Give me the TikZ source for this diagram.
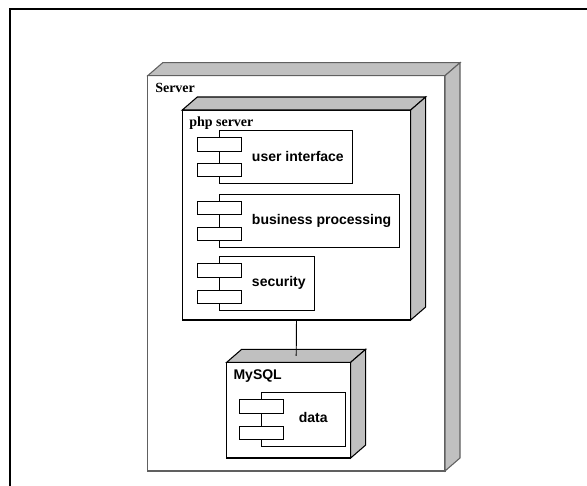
\documentclass[tikz,border=0pt]{standalone}
\usepackage{fontspec}
\setmainfont{Liberation Serif}
\newfontfamily\sansbf{Liberation Sans}
\usetikzlibrary{fit,calc}
\definecolor{facegray}{RGB}{192,192,192}
\definecolor{srvline}{RGB}{96,96,96}
\begin{document}
\begin{tikzpicture}[x=0.75pt,y=-0.75pt,
  box/.style={draw, fill=white, inner sep=0pt, outer sep=0pt, line width=0.8pt},
  face/.style={fill=facegray, draw, line width=0.8pt, line join=miter},
  comp/.style={draw, fill=white, inner sep=0pt, outer sep=0pt, line width=0.7pt},
  port/.style={draw, fill=white, line width=0.7pt},
  lab/.style={font=\fontsize{10.5}{12}\selectfont\bfseries, anchor=base west, inner sep=0pt},
  clab/.style={font=\fontsize{10.5}{12}\selectfont\sansbf\bfseries, anchor=base west, inner sep=0pt},
  conn/.style={draw, line width=0.7pt}]
\useasboundingbox (0,0) rectangle (587,486);
\draw[line width=1.2pt] (10,486) -- (10,9) -- (587,9);

% Server node
\node[box, draw=srvline, fit={(147.7,75.7) (445,471)}] (server) {};
\path[face, draw=srvline] (server.north west) -- ++(15,-13) -- ([shift={(15,-13)}]server.north east) -- (server.north east) -- cycle;
\path[face, draw=srvline] (server.north east) -- ([shift={(15,-13)}]server.north east) -- ([shift={(15,-13)}]server.south east) -- (server.south east) -- cycle;
\node[lab] (serverlab) at (155,92.7) {Server};

% php server node
\node[box, fit={(182.3,110) (410.7,320)}] (php) {};
\path[face] (php.north west) -- ++(15,-13) -- ([shift={(15,-13)}]php.north east) -- (php.north east) -- cycle;
\path[face] (php.north east) -- ([shift={(15,-13)}]php.north east) -- ([shift={(15,-13)}]php.south east) -- (php.south east) -- cycle;
\node[lab] (phplab) at (189,126) {php server};

% components
\node[comp, fit={(219.3,130.7) (352.3,183.3)}] (ui) {};
\draw[port] ([shift={(-22,7)}]ui.north west) rectangle ++(43.7,13.3);
\draw[port] ([shift={(-22,-7)}]ui.south west) rectangle ++(43.7,-13.3);
\node[clab] (uilab) at (251.7,161.7) {user interface};

\node[comp, fit={(219.3,194) (399.3,247.3)}] (bp) {};
\draw[port] ([shift={(-22,7)}]bp.north west) rectangle ++(43.7,13.3);
\draw[port] ([shift={(-22,-7)}]bp.south west) rectangle ++(43.7,-13.3);
\node[clab] (bplab) at (251.7,224) {business processing};

\node[comp, fit={(219.3,256.7) (314.3,310.7)}] (sec) {};
\draw[port] ([shift={(-22,7)}]sec.north west) rectangle ++(43.7,13.3);
\draw[port] ([shift={(-22,-7)}]sec.south west) rectangle ++(43.7,-13.3);
\node[clab] (seclab) at (251.7,286.7) {security};

% MySQL node
\node[box, fit={(226.7,362.3) (350.7,458)}] (mysql) {};
\path[face] (mysql.north west) -- ++(15,-13) -- ([shift={(15,-13)}]mysql.north east) -- (mysql.north east) -- cycle;
\path[face] (mysql.north east) -- ([shift={(15,-13)}]mysql.north east) -- ([shift={(15,-13)}]mysql.south east) -- (mysql.south east) -- cycle;
\node[clab] (mysqllab) at (233.3,379) {MySQL};

\node[comp, fit={(261,392.7) (345.7,446.7)}] (data) {};
\draw[port] ([shift={(-22,7)}]data.north west) rectangle ++(44.3,13.3);
\draw[port] ([shift={(-22,-7)}]data.south west) rectangle ++(44.3,-13.3);
\node[clab] (datalab) at (298.6,422.7) {data};

% connector
\coordinate (mysqltop) at ($(mysql.north)+(7.5,-6.5)$);
\draw[conn] (php.south) -- (mysqltop);
\end{tikzpicture}
\end{document}
